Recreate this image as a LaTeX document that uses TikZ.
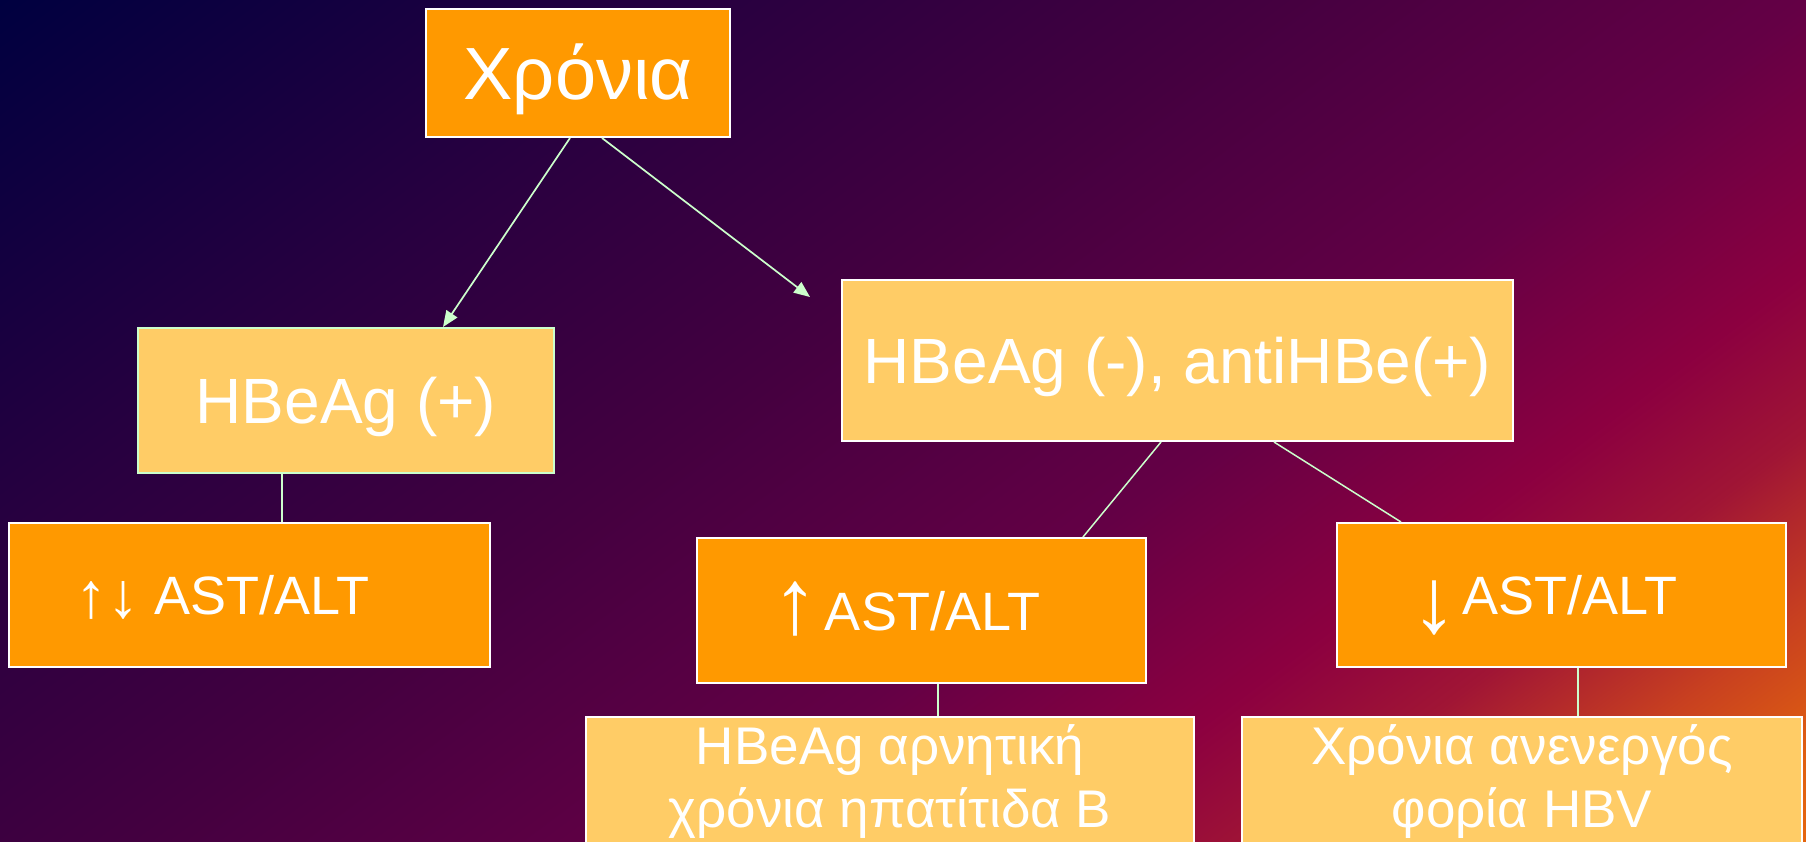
\documentclass[tikz,border=0pt]{standalone}
\usepackage{fontspec}
\setmainfont{Liberation Sans}
\usetikzlibrary{arrows.meta,positioning}

\definecolor{boxorange}{HTML}{FF9900}
\definecolor{boxlight}{HTML}{FFCC66}
\definecolor{linkgreen}{HTML}{CCFFCC}
\definecolor{bgA}{HTML}{000040}
\definecolor{bgB}{HTML}{280040}
\definecolor{bgC}{HTML}{440040}
\definecolor{bgD}{HTML}{640045}
\definecolor{bgE}{HTML}{8C0040}
\definecolor{bgF}{HTML}{A01535}
\definecolor{bgG}{HTML}{C84020}
\definecolor{bgH}{HTML}{E06010}
\definecolor{bgI}{HTML}{FF8800}
% colour along the slide diagonal, 25bp = top left corner, 75bp = far corner
\pgfdeclarehorizontalshading{slidebg}{100bp}{color(0bp)=(bgA); color(25bp)=(bgA);
  color(35bp)=(bgB); color(42.5bp)=(bgC); color(50bp)=(bgD); color(55bp)=(bgE);
  color(58bp)=(bgF); color(61.25bp)=(bgG); color(64bp)=(bgH); color(75bp)=(bgI);
  color(100bp)=(bgI)}

\newcommand{\titlefont}{\fontsize{74}{89}\selectfont}
\newcommand{\markerfont}{\fontsize{64}{77}\selectfont}
\newcommand{\levelfont}{\fontsize{54}{65}\selectfont}
\newcommand{\notefont}{\fontsize{53}{63}\selectfont}
\newcommand{\arrowfont}{\fontsize{92}{100}\selectfont}

\begin{document}
\begin{tikzpicture}[x=1pt, y=-1pt,
    darkbox/.style={draw=white, fill=boxorange, line width=2pt, text=white, inner sep=0pt},
    lightbox/.style={draw=white, fill=boxlight, line width=2pt, text=white, inner sep=0pt},
    notebox/.style={lightbox, align=center, font=\notefont},
    titletext/.style={font=\titlefont, text height=53pt, text depth=0pt},
    markertext/.style={font=\markerfont, text height=46pt, text depth=0pt},
    leveltext/.style={font=\levelfont, text height=39pt, text depth=0pt},
    link/.style={draw=linkgreen, line width=1.5pt},
    arrowlink/.style={link, line width=1.7pt, -{Triangle[length=16pt, width=13pt]}}
  ]

  \useasboundingbox (0,0) rectangle (1806,841);

  % slide background
  \begin{scope}
    \clip (0,0) rectangle (1806,841);
    \begin{scope}[transform canvas={cm={18.06,-13.55,18.06,13.55,(-903pt,-677.5pt)}}]
      \shade[shading=slidebg] (0pt,0pt) rectangle (100pt,100pt);
    \end{scope}
  \end{scope}

  \node[darkbox, titletext, minimum width=304pt, minimum height=128pt] (chron) at (578,73) {Χρόνια};

  \node[lightbox, markertext, draw=linkgreen, minimum width=416pt, minimum height=145pt] (pos) at (346,400.5) {HBeAg (+)};
  \node[lightbox, markertext, minimum width=671pt, minimum height=161pt] (neg) at (1177.5,360.5) {HBeAg (-), antiHBe(+)};

  \node[darkbox, leveltext, minimum width=481pt, minimum height=144pt, below=48pt of pos, xshift=-96.5pt] (updown)
    {{\fontsize{64}{70}\selectfont\raisebox{-3pt}{↑↓}} AST/ALT\hspace*{54pt}};
  \node[darkbox, leveltext, minimum width=449pt, minimum height=145pt, below=95pt of neg, xshift=-256pt] (up)
    {\raisebox{-3pt}{\arrowfont ↑}\hspace{-9pt} AST/ALT\hspace*{30pt}};
  \node[darkbox, leveltext, minimum width=449pt, minimum height=144pt, below=80pt of neg, xshift=384pt] (down)
    {\raisebox{-18pt}{\arrowfont ↓}\hspace{-10pt} AST/ALT\hspace*{34pt}};

  \node[notebox, minimum width=608pt, minimum height=130pt, below=32pt of up, xshift=-31.5pt] (negchronic) {HBeAg αρνητική\\χρόνια ηπατίτιδα Β};
  \node[notebox, minimum width=560pt, minimum height=130pt, below=48pt of down, xshift=-39.5pt] (inactive) {Χρόνια ανενεργός\\φορία HBV};

  \coordinate (negtip) at (810,297);

  \draw[arrowlink] ([xshift=-8pt]chron.south) -- ([xshift=97pt]pos.north);
  \draw[arrowlink] ([xshift=24pt]chron.south) -- (negtip);
  \draw[link] ([xshift=-64pt]pos.south) -- ([xshift=32.5pt]updown.north);
  \draw[link] ([xshift=-16.5pt]neg.south) -- ([xshift=161.5pt]up.north);
  \draw[link] ([xshift=96.5pt]neg.south) -- ([xshift=-160.5pt]down.north);
  \draw[link] ([xshift=16.5pt]up.south) -- ([xshift=48pt]negchronic.north);
  \draw[link] ([xshift=16.5pt]down.south) -- ([xshift=56pt]inactive.north);

\end{tikzpicture}
\end{document}
